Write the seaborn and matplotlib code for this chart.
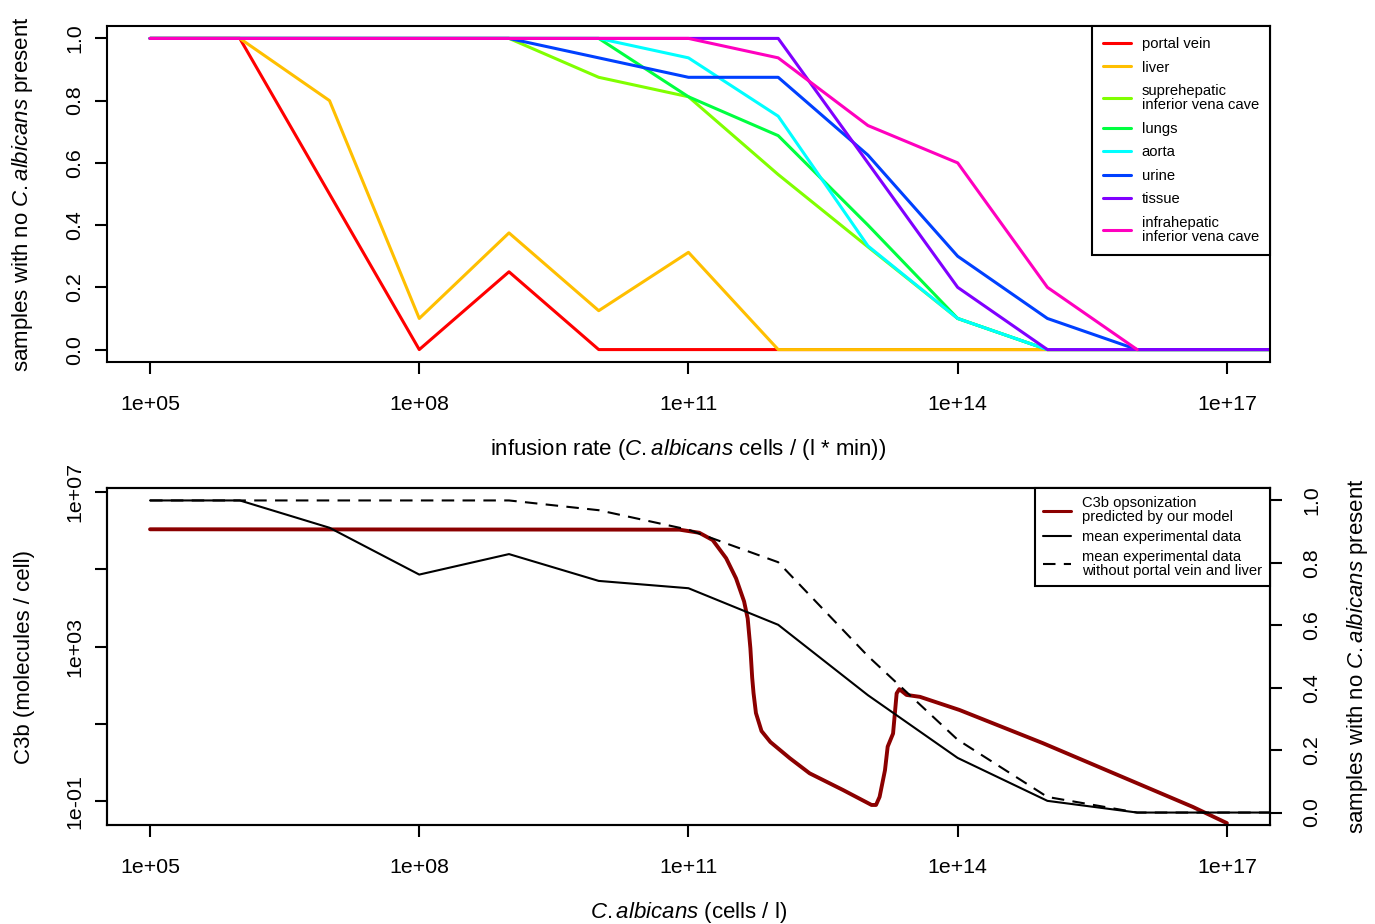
import numpy as np
import pandas as pd
import matplotlib
matplotlib.use("Agg")
import matplotlib.pyplot as plt
from matplotlib.ticker import FixedLocator, FixedFormatter, NullLocator
from matplotlib.lines import Line2D
import seaborn as sns

# ---------------------------------------------------------------- data
# infusion rate, C. albicans cells / (l * min)
infusion_rate = [1e5, 1e6, 1e7, 1e8, 1e9, 1e10, 1e11, 1e12, 1e13, 1e14, 1e15, 1e16, 1e17, 1e18]

compartments = [
    "portal vein",
    "liver",
    "suprehepatic\ninferior vena cave",
    "lungs",
    "aorta",
    "urine",
    "tissue",
    "infrahepatic\ninferior vena cave",
]

# fraction of samples with no C. albicans present, per compartment
portal_vein = [1, 1, 0.5, 0, 0.25, 0, 0, 0, 0, 0, 0, 0, 0, 0]
liver = [1, 1, 0.8, 0.1, 0.375, 0.125, 0.3125, 0, 0, 0, 0, 0, 0, 0]
suprehepatic = [1, 1, 1, 1, 1, 0.875, 0.8125, 0.5625, 0.33, 0.1, 0, 0, 0, 0]
lungs = [1, 1, 1, 1, 1, 1, 0.8125, 0.6875, 0.4, 0.1, 0, 0, 0, 0]
aorta = [1, 1, 1, 1, 1, 1, 0.9375, 0.75, 0.333, 0.1, 0, 0, 0, 0]
urine = [1, 1, 1, 1, 1, 0.9375, 0.875, 0.875, 0.625, 0.3, 0.1, 0, 0, 0]
tissue = [1, 1, 1, 1, 1, 1, 1, 1, 0.6, 0.2, 0, 0, 0, 0]
infrahepatic = [1, 1, 1, 1, 1, 1, 1, 0.9375, 0.72, 0.6, 0.2, 0, np.nan, np.nan]

compartment_colors = ["#FF0000", "#FFBF00", "#80FF00", "#00FF40",
                      "#00FFFF", "#0040FF", "#8000FF", "#FF00BF"]

# predicted C3b opsonization (log10 of concentration, log10 of molecules / cell)
c3b_log_conc = [5.0, 10.90, 11.12, 11.27, 11.42, 11.53, 11.62, 11.66, 11.69, 11.71,
                11.725, 11.752, 11.814, 11.913, 12.13, 12.35, 12.72, 13.04, 13.09, 13.13,
                13.19, 13.22, 13.28, 13.30, 13.32, 13.35, 13.43, 13.58, 14.02, 14.95,
                16.62, 17.0]
c3b_log_level = [6.04, 6.03, 5.95, 5.76, 5.29, 4.77, 4.17, 3.73, 2.96, 2.20,
                 1.80, 1.28, 0.815, 0.53, 0.11, -0.28, -0.71, -1.10, -1.10, -0.89,
                 -0.20, 0.41, 0.75, 1.27, 1.79, 1.90, 1.75, 1.70, 1.36, 0.50,
                 -1.15, -1.57]

x_ticks = [1e5, 1e8, 1e11, 1e14, 1e17]
x_tick_labels = ["1e+05", "1e+08", "1e+11", "1e+14", "1e+17"]
frac_ticks = [0.0, 0.2, 0.4, 0.6, 0.8, 1.0]
frac_tick_labels = ["0.0", "0.2", "0.4", "0.6", "0.8", "1.0"]
c3b_ticks = [1e-1, 1e1, 1e3, 1e5, 1e7]
c3b_tick_labels = ["1e-01", "", "1e+03", "", "1e+07"]

# ---------------------------------------------------------------- tables
series = [portal_vein, liver, suprehepatic, lungs, aorta, urine, tissue, infrahepatic]
frac = np.array(series, dtype=float)
mean_all = np.nanmean(frac, axis=0)
mean_without_pv_liver = np.nanmean(frac[2:], axis=0)

top_df = pd.DataFrame(
    [(r, v, name) for name, vals in zip(compartments, series) for r, v in zip(infusion_rate, vals)],
    columns=["rate", "fraction", "compartment"],
).dropna()

c3b_df = pd.DataFrame({"conc": 10.0 ** np.array(c3b_log_conc),
                       "c3b": 10.0 ** np.array(c3b_log_level)})
mean_df = pd.DataFrame({"rate": infusion_rate, "all": mean_all,
                        "without": mean_without_pv_liver})

# ---------------------------------------------------------------- style
sns.set_style("ticks")
plt.rcParams.update({
    "font.family": ["Liberation Sans", "DejaVu Sans"],
    "mathtext.fontset": "custom",
    "mathtext.rm": "Liberation Sans",
    "mathtext.it": "Liberation Sans:italic",
    "mathtext.bf": "Liberation Sans:bold",
    "axes.linewidth": 1.5,
    "axes.edgecolor": "black",
    "axes.labelcolor": "black",
    "text.color": "black",
    "xtick.color": "black",
    "ytick.color": "black",
})

TICK_FS = 15.4
LABEL_FS = 16.0
LEGEND_FS = 10.6
XLIM = (10 ** 4.52, 10 ** 17.48)

fig = plt.figure(figsize=(13.75, 9.24), dpi=100)
ax1 = fig.add_axes([0.0778, 0.6082, 0.8458, 0.3637])
ax2 = fig.add_axes([0.0778, 0.1071, 0.8458, 0.3648])


def style_x(ax):
    ax.set_xscale("log")
    ax.set_xlim(*XLIM)
    ax.xaxis.set_major_locator(FixedLocator(x_ticks))
    ax.xaxis.set_major_formatter(FixedFormatter(x_tick_labels))
    ax.xaxis.set_minor_locator(NullLocator())
    ax.tick_params(axis="x", direction="out", length=8.5, width=1.5,
                   labelsize=TICK_FS, pad=15)


def style_y(ax, side_pad):
    ax.tick_params(axis="y", direction="out", length=8.5, width=1.5,
                   labelsize=TICK_FS, pad=side_pad, labelrotation=90)
    for lab in ax.get_yticklabels():
        lab.set_va("center")


def style_legend(leg):
    leg.get_frame().set_linewidth(1.5)
    for t in leg.get_texts():
        t.set_linespacing(1.0)


# ---------------------------------------------------------------- top panel
ax1.set_xscale("log")
sns.lineplot(data=top_df, x="rate", y="fraction", hue="compartment",
             hue_order=compartments, palette=compartment_colors,
             linewidth=2.2, errorbar=None, legend=False, ax=ax1)
style_x(ax1)
ax1.set_ylim(-0.04, 1.04)
ax1.yaxis.set_major_locator(FixedLocator(frac_ticks))
ax1.yaxis.set_major_formatter(FixedFormatter(frac_tick_labels))
style_y(ax1, 8)
ax1.set_xlabel(r"infusion rate ($\it{C.albicans}$ cells / (l * min))",
               fontsize=LABEL_FS, labelpad=16.5)
ax1.set_ylabel(r"samples with no $\it{C.albicans}$ present",
               fontsize=LABEL_FS, labelpad=22)
for sp in ax1.spines.values():
    sp.set_visible(True)

handles1 = [Line2D([], [], color=c, lw=2.2) for c in compartment_colors]
leg1 = ax1.legend(handles1, compartments, loc="upper right", borderaxespad=0,
                  fontsize=LEGEND_FS, frameon=True, fancybox=False,
                  edgecolor="black", framealpha=1, handlelength=1.85,
                  handletextpad=0.75, borderpad=0.75, labelspacing=0.65)
style_legend(leg1)

# ---------------------------------------------------------------- bottom panel
ax2.set_xscale("log")
ax2.set_yscale("log")
sns.lineplot(data=c3b_df, x="conc", y="c3b", color="#8B0000", linewidth=2.8,
             sort=False, errorbar=None, ax=ax2)
ax2.get_lines()[-1].set_solid_joinstyle("round")
style_x(ax2)
ax2.set_ylim(10 ** -1.62, 10 ** 7.11)
ax2.yaxis.set_major_locator(FixedLocator(c3b_ticks))
ax2.yaxis.set_major_formatter(FixedFormatter(c3b_tick_labels))
ax2.yaxis.set_minor_locator(NullLocator())
style_y(ax2, 8)
ax2.set_xlabel(r"$\it{C.albicans}$ (cells / l)", fontsize=LABEL_FS, labelpad=16.5)
ax2.set_ylabel("C3b (molecules / cell)", fontsize=LABEL_FS, labelpad=22)

ax2r = ax2.twinx()
sns.lineplot(data=mean_df, x="rate", y="all", color="black", linewidth=1.5,
             errorbar=None, ax=ax2r)
sns.lineplot(data=mean_df, x="rate", y="without", color="black", linewidth=1.5,
             errorbar=None, ax=ax2r)
ax2r.get_lines()[-1].set_dashes((6, 4))
ax2r.set_xlim(*XLIM)
ax2r.set_ylim(-0.04, 1.04)
ax2r.yaxis.set_major_locator(FixedLocator(frac_ticks))
ax2r.yaxis.set_major_formatter(FixedFormatter(frac_tick_labels))
ax2r.tick_params(axis="y", direction="out", length=8.5, width=1.5,
                 labelsize=TICK_FS, pad=14.5, labelrotation=90)
for lab in ax2r.get_yticklabels():
    lab.set_va("center")
ax2r.set_ylabel(r"samples with no $\it{C.albicans}$ present",
                fontsize=LABEL_FS, labelpad=17)
for sp in list(ax2.spines.values()) + list(ax2r.spines.values()):
    sp.set_visible(True)
    sp.set_linewidth(1.5)

handles2 = [Line2D([], [], color="#8B0000", lw=2.2),
            Line2D([], [], color="black", lw=1.5),
            Line2D([], [], color="black", lw=1.5, dashes=(6, 4))]
labels2 = ["C3b opsonization\npredicted by our model",
           "mean experimental data",
           "mean experimental data\nwithout portal vein and liver"]
leg2 = ax2r.legend(handles2, labels2, loc="upper right", borderaxespad=0,
                   fontsize=LEGEND_FS, frameon=True, fancybox=False,
                   edgecolor="black", framealpha=1, handlelength=1.85,
                   handletextpad=0.75, borderpad=0.56, labelspacing=0.4)
style_legend(leg2)

fig.savefig("out.png", dpi=100, facecolor="white")
